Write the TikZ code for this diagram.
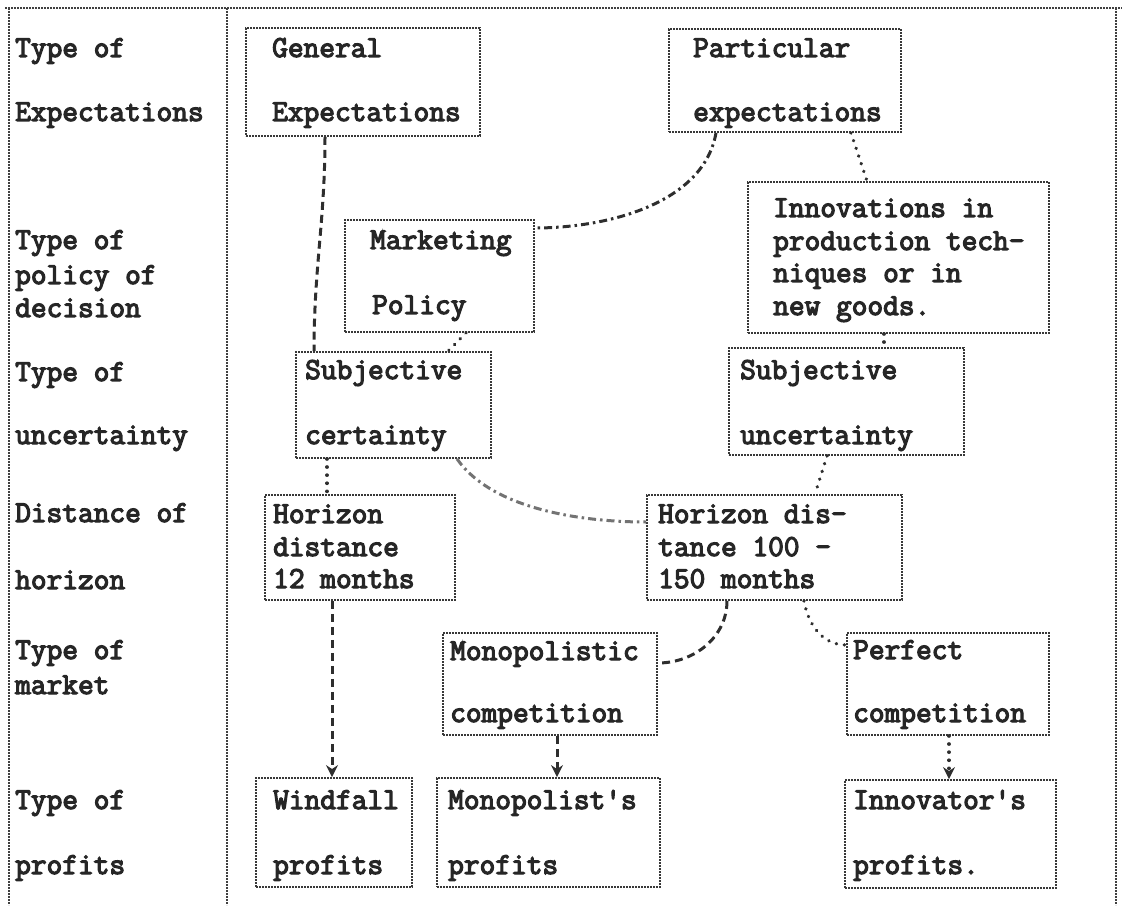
\documentclass[tikz,border=0pt]{standalone}
\usepackage{fontspec}
\newfontfamily\tw{Latin Modern Mono}[FakeBold=4]
\usetikzlibrary{arrows.meta}
\tikzset{
  bx/.style={draw=black!78, line width=1.8pt, dash pattern=on 2pt off 1pt, inner sep=0pt},
  frm/.style={draw=black!75, line width=1.8pt, dash pattern=on 2pt off 1pt},
  tx/.style={font=\tw\fontsize{30.5}{36}\selectfont, text=black!85, anchor=base west, inner sep=0pt},
  cdash/.style={draw=black!82, line width=3pt, dash pattern=on 8pt off 5pt},
  cdashdot/.style={draw=black!82, line width=3pt, dash pattern=on 8pt off 4pt on 2.5pt off 4pt},
  cdot/.style={draw=black!82, line width=3.6pt, line cap=round, dash pattern=on 0.1pt off 8pt},
  arr/.style={-{Stealth[length=12pt,width=12pt]}},
}
\begin{document}
\begin{tikzpicture}[x=1pt,y=-1pt]
\useasboundingbox (0,0) rectangle (1130,909);
% frame
\draw[frm] (5,8) -- (1122,8);
\draw[frm] (9,8) -- (9,905);
\draw[frm] (227,8) -- (227,905);
\draw[frm] (1116,8) -- (1116,905);
% left column
\node[tx] (l1) at (15,57) {Type of};
\node[tx] (l2) at (15,121) {Expectations};
\node[tx] (l3) at (15,249) {Type of};
\node[tx] (l4) at (15,284) {policy of};
\node[tx] (l5) at (15,317) {decision};
\node[tx] (l6) at (15,381) {Type of};
\node[tx] (l7) at (15,444) {uncertainty};
\node[tx] (l8) at (15,522) {Distance of};
\node[tx] (l9) at (15,589) {horizon};
\node[tx] (l10) at (15,659) {Type of};
\node[tx] (l11) at (15,694) {market};
\node[tx] (l12) at (15,809) {Type of};
\node[tx] (l13) at (15,874) {profits};
% boxes
\node[bx, minimum width=234pt, minimum height=108pt] (ge) at (363,82) {};
\node[bx, minimum width=232pt, minimum height=103pt] (pe) at (785,80.5) {};
\node[bx, minimum width=189pt, minimum height=112pt] (mp) at (439.5,276) {};
\node[bx, minimum width=301pt, minimum height=151pt] (in) at (898.5,257.5) {};
\node[bx, minimum width=195pt, minimum height=106pt] (sc) at (393.5,405) {};
\node[bx, minimum width=235pt, minimum height=107pt] (su) at (846.5,401.5) {};
\node[bx, minimum width=190pt, minimum height=105pt] (h12) at (360,547.5) {};
\node[bx, minimum width=255pt, minimum height=105pt] (h100) at (774.5,547.5) {};
\node[bx, minimum width=214pt, minimum height=102pt] (mc) at (550,684) {};
\node[bx, minimum width=202pt, minimum height=102pt] (pc) at (948,684) {};
\node[bx, minimum width=156pt, minimum height=109pt] (wp) at (334,832.5) {};
\node[bx, minimum width=223pt, minimum height=109pt] (mop) at (548.5,832.5) {};
\node[bx, minimum width=211pt, minimum height=108pt] (ip) at (950.5,834) {};
% box texts
\node[tx] (ge1) at (272,57) {General};
\node[tx] (ge2) at (272,121) {Expectations};
\node[tx] (pe1) at (693,57) {Particular};
\node[tx] (pe2) at (693,121) {expectations};
\node[tx] (mp1) at (370,249) {Marketing};
\node[tx] (mp2) at (372,314) {Policy};
\node[tx] (in1) at (773,217) {Innovations in};
\node[tx] (in2) at (773,250) {production tech-};
\node[tx] (in3) at (773,282) {niques or in};
\node[tx] (in4) at (773,315) {new goods.};
\node[tx] (sc1) at (305,379) {Subjective};
\node[tx] (sc2) at (305,444) {certainty};
\node[tx] (su1) at (740,379) {Subjective};
\node[tx] (su2) at (740,444) {uncertainty};
\node[tx] (ha1) at (273,523) {Horizon};
\node[tx] (ha2) at (273,556) {distance};
\node[tx] (ha3) at (273,588) {12 months};
\node[tx] (hb1) at (658,523) {Horizon dis-};
\node[tx] (hb2) at (658,556) {tance 100 -};
\node[tx] (hb3) at (658,588) {150 months};
\node[tx] (mc1) at (450,660) {Monopolistic};
\node[tx] (mc2) at (450,722) {competition};
\node[tx] (pc1) at (853,659) {Perfect};
\node[tx] (pc2) at (853,722) {competition};
\node[tx] (wp1) at (273,809) {Windfall};
\node[tx] (wp2) at (273,874) {profits};
\node[tx] (mo1) at (448,809) {Monopolist's};
\node[tx] (mo2) at (448,874) {profits};
\node[tx] (ip1) at (853,809) {Innovator's};
\node[tx] (ip2) at (853,874) {profits.};
% connectors
\draw[cdash] ([xshift=-38pt]ge.south) to[out=-90,in=90] ([xshift=-79.5pt]sc.north);
\draw[cdashdot] ([xshift=-69pt]pe.south) to[out=-100,in=0,looseness=0.9] ([yshift=48pt]mp.east);
\draw[cdot] ([xshift=66pt]pe.south) -- ([xshift=-31.5pt]in.north);
\draw[cdot] ([xshift=26.5pt]mp.south) -- ([xshift=54.5pt]sc.north);
\draw[cdot] ([xshift=-14.5pt]in.south) -- ([xshift=37.5pt]su.north);
\draw[cdot] ([xshift=-19.5pt]su.south) -- ([xshift=40.5pt]h100.north);
\draw[cdot] ([xshift=-66.5pt]sc.south) -- ([xshift=-33pt]h12.north);
\draw[cdashdot, draw=black!55] ([xshift=63.5pt]sc.south) to[out=-55,in=180,looseness=0.8] ([yshift=25.5pt]h100.west);
\draw[cdash, arr] ([xshift=-28pt]h12.south) -- ([xshift=-2pt]wp.north);
\draw[cdash] ([xshift=-47.5pt]h100.south) to[out=-90,in=0] ([yshift=21pt]mc.east);
\draw[cdot] ([xshift=29.5pt]h100.south) to[out=-80,in=180] ([yshift=39pt]pc.west);
\draw[cdash, arr] ([xshift=7pt]mc.south) -- ([xshift=8.5pt]mop.north);
\draw[cdot, arr] ([xshift=1pt]pc.south) -- ([xshift=-1.5pt]ip.north);
\end{tikzpicture}
\end{document}
